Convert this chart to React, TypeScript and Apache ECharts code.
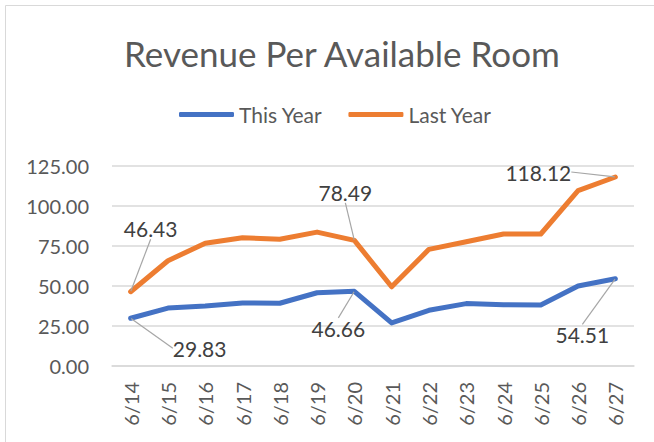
import React, { useEffect, useRef } from "react";
import * as echarts from "echarts";

const categories = ["6/14", "6/15", "6/16", "6/17", "6/18", "6/19", "6/20", "6/21", "6/22", "6/23", "6/24", "6/25", "6/26", "6/27"];
const thisYear = [29.83, 36.2, 37.5, 39.4, 39.2, 45.8, 46.66, 26.9, 34.8, 39.0, 38.3, 38.1, 50.0, 54.51];
const lastYear = [46.43, 65.8, 76.7, 80.2, 79.2, 83.7, 78.49, 49.5, 72.9, 77.7, 82.5, 82.5, 109.6, 118.12];
const labeledIndices = [0, 6, 13];
const yTicks = { min: 0, max: 125, interval: 25 };

const FONT = "Lato, 'Open Sans', sans-serif";

export default function App() {
  const ref = useRef<HTMLDivElement>(null);
  useEffect(() => {
    if (!ref.current) return;
    const chart = echarts.init(ref.current, undefined, { renderer: "svg" });

    // label offsets (dx, dy) relative to the point: [seriesIndex][dataIndex]
    const offsets: Record<number, Record<number, [number, number]>> = {
      0: { 0: [69, 30], 6: [-16, 37], 13: [-33, 56] },
      1: { 0: [20, -63], 6: [-9, -48], 13: [-77, -5] },
    };

    const mkData = (arr: number[]) =>
      arr.map((v, i) =>
        labeledIndices.includes(i)
          ? { value: v, label: { show: true }, labelLine: { show: true } }
          : v
      );

    const commonSeries = {
      type: "line" as const,
      symbol: "circle",
      symbolSize: 1,
      showSymbol: true,
      lineStyle: { width: 5, cap: "round", join: "round" },
      label: {
        show: false,
        position: "inside",
        fontFamily: FONT,
        fontSize: 21,
        color: "#404040",
        formatter: (p: any) => Number(p.value).toFixed(2),
      },
      labelLine: { show: false, lineStyle: { color: "#A6A6A6", width: 1.2 } },
      emphasis: { disabled: true },
    };

    chart.setOption({
      animation: false,
      backgroundColor: "#ffffff",
      title: {
        text: "Revenue Per Available Room",
        left: 119,
        top: 30,
        textStyle: { fontFamily: FONT, fontSize: 35, fontWeight: "normal", color: "#595959" },
      },
      legend: {
        left: 174,
        top: 99,
        itemWidth: 55,
        itemHeight: 5,
        itemGap: 26,
        icon: "roundRect",
        textStyle: { fontFamily: FONT, fontSize: 21, color: "#595959" },
        data: ["This Year", "Last Year"],
      },
      grid: { left: 112, right: 20, top: 166, bottom: 76 },
      xAxis: {
        type: "category",
        data: categories,
        boundaryGap: true,
        axisLine: { show: true, lineStyle: { color: "#D9D9D9", width: 1.5 } },
        axisTick: { show: false },
        axisLabel: { rotate: 90, margin: 16, fontFamily: FONT, fontSize: 20, color: "#595959" },
      },
      yAxis: {
        type: "value",
        min: yTicks.min,
        max: yTicks.max,
        interval: yTicks.interval,
        axisLine: { show: false },
        axisTick: { show: false },
        splitLine: { lineStyle: { color: "#D9D9D9", width: 1.5 } },
        axisLabel: {
          margin: 23,
          fontFamily: FONT,
          fontSize: 20,
          color: "#595959",
          formatter: (v: number) => v.toFixed(2),
        },
      },
      labelLayout: (params: any) => {
        const o = offsets[params.seriesIndex]?.[params.dataIndex];
        if (!o) return {};
        return { dx: o[0], dy: o[1] };
      },
      series: [
        {
          ...commonSeries,
          name: "This Year",
          data: mkData(thisYear),
          itemStyle: { color: "#4472C4" },
          lineStyle: { ...commonSeries.lineStyle, color: "#4472C4" },
        },
        {
          ...commonSeries,
          name: "Last Year",
          data: mkData(lastYear),
          itemStyle: { color: "#ED7D31" },
          lineStyle: { ...commonSeries.lineStyle, color: "#ED7D31" },
        },
      ],
      graphic: [
        {
          type: "rect",
          shape: { x: 5.5, y: 5.5, width: 660, height: 460 },
          style: { fill: "none", stroke: "#D9D9D9", lineWidth: 1 },
          silent: true,
        },
      ],
    });
    return () => chart.dispose();
  }, []);
  return <div ref={ref} style={{ width: 654, height: 442, position: "absolute", left: 0, top: 0 }} />;
}
